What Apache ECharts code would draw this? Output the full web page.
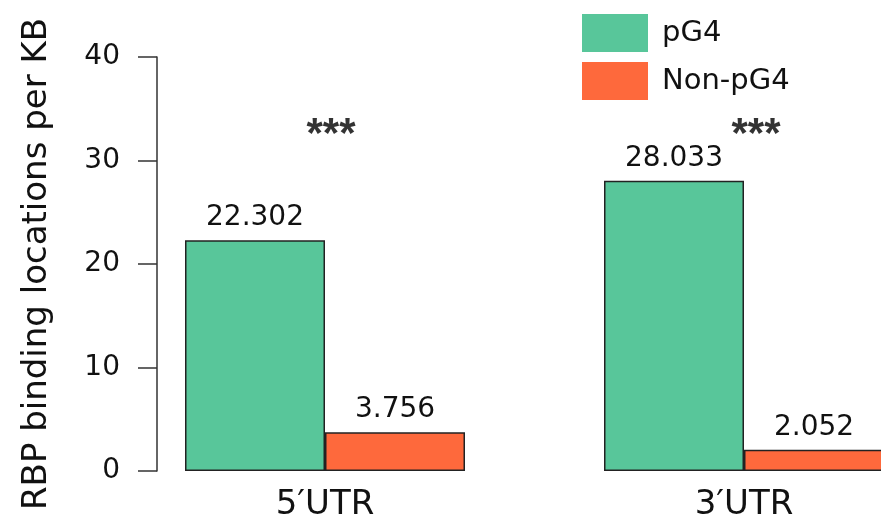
<!DOCTYPE html>
<html>
<head>
<meta charset="utf-8">
<script src="https://cdn.jsdelivr.net/npm/echarts@6/dist/echarts.min.js"></script>
<style>
  html, body { margin: 0; padding: 0; background: #fff; }
  #chart { width: 881px; height: 523px; }
</style>
</head>
<body>
<div id="chart"></div>
<script>
  const categories = ["5\u2032UTR", "3\u2032UTR"];
  const pG4 = [22.302, 28.033];
  const nonPG4 = [3.756, 2.052];
  const stars = ["***", "***"];
  const starLevel = [32.4, 32.4];
  const yTicks = [0, 10, 20, 30, 40];

  const font = "DejaVu Sans, Liberation Sans, Arial, sans-serif";
  const chart = echarts.init(document.getElementById("chart"));

  chart.setOption({
    animation: false,
    backgroundColor: "#fff",
    textStyle: { fontFamily: font },
    legend: {
      orient: "vertical",
      left: 577,
      top: 9,
      itemWidth: 66,
      itemHeight: 38,
      itemGap: 10,
      icon: "rect",
      data: ["pG4", "Non-pG4"],
      itemStyle: { borderWidth: 0 },
      textStyle: { fontSize: 29, color: "#111", fontFamily: font, padding: [0, 0, 0, 9] }
    },
    grid: { left: 115.5, width: 838, top: 57, bottom: 52, containLabel: false, outerBoundsMode: "none" },
    xAxis: {
      type: "category",
      data: categories,
      axisLine: { show: false },
      axisTick: { show: false },
      axisLabel: { fontSize: 34, color: "#111", margin: 17, fontFamily: font }
    },
    yAxis: {
      type: "value",
      min: yTicks[0],
      max: yTicks[yTicks.length - 1],
      interval: 10,
      offset: -41.5,
      name: "RBP binding locations per KB",
      nameLocation: "middle",
      nameGap: 103,
      nameTextStyle: { fontSize: 34, color: "#111", fontFamily: font },
      axisLine: { show: true, lineStyle: { color: "#333", width: 1.5 } },
      axisTick: { show: true, length: 19, lineStyle: { color: "#333", width: 1.5 } },
      axisLabel: { fontSize: 28, color: "#111", margin: 37, fontFamily: font },
      splitLine: { show: false }
    },
    series: [
      {
        name: "pG4",
        type: "bar",
        data: pG4,
        barWidth: 140,
        barGap: "0%",
        itemStyle: { color: "#58C69A", borderColor: "#222", borderWidth: 1.5 },
        label: { show: true, position: "top", distance: 8, fontSize: 28, color: "#111", fontFamily: font, formatter: (p) => p.value.toFixed(3) }
      },
      {
        name: "Non-pG4",
        type: "bar",
        data: nonPG4,
        barWidth: 140,
        barGap: "0%",
        itemStyle: { color: "#FE693C", borderColor: "#222", borderWidth: 1.5 },
        label: { show: true, position: "top", distance: 8, fontSize: 28, color: "#111", fontFamily: font, formatter: (p) => p.value.toFixed(3) }
      },
      {
        name: "sig",
        type: "scatter",
        symbolSize: 0,
        silent: true,
        data: starLevel.map((v, i) => ({
          value: [categories[i], v],
          label: { offset: [i === 0 ? 6 : 12, 0] }
        })),
        label: {
          show: true,
          position: "inside",
          fontSize: 42,
          fontWeight: "bold",
          color: "#000",
          fontFamily: "Liberation Sans, Arial, sans-serif",
          formatter: (p) => stars[p.dataIndex]
        }
      }
    ]
  });
</script>
</body>
</html>
